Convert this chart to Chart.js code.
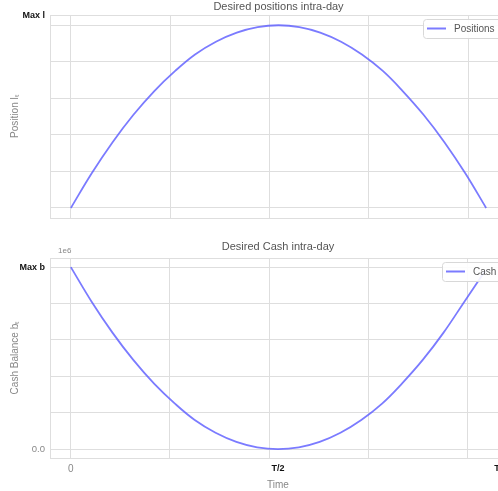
<!DOCTYPE html>
<html>
<head>
<meta charset="utf-8">
<script src="https://cdn.jsdelivr.net/npm/chart.js@4"></script>
<style>
  html, body { margin: 0; padding: 0; background: #fff; }
  #wrap { position: relative; width: 498px; height: 491px; overflow: hidden; }
  .box { position: absolute; left: 0; width: 512px; }
  #top-box { top: 0; height: 230px; }
  #bottom-box { top: 230px; height: 261px; }
</style>
</head>
<body>
<div id="wrap">
  <div class="box" id="top-box"><canvas id="positions-chart"></canvas></div>
  <div class="box" id="bottom-box"><canvas id="cash-chart"></canvas></div>
</div>
<script>
// time in minutes over the trading day
const times = [0, 21, 42, 63, 84, 105, 125, 146, 167, 188, 209, 230, 251, 272, 293, 314, 334, 355, 376, 397, 418];
// desired positions, fraction of max l
const positions = [0.00, 0.19, 0.36, 0.51, 0.64, 0.75, 0.84, 0.91, 0.96, 0.99, 1.00, 0.99, 0.96, 0.91, 0.84, 0.75, 0.64, 0.51, 0.36, 0.19, 0.00];
// desired cash balance, in 1e6
const cash = [1.00, 0.81, 0.64, 0.49, 0.36, 0.25, 0.16, 0.09, 0.04, 0.01, 0.00, 0.01, 0.04, 0.09, 0.16, 0.25, 0.36, 0.49, 0.64, 0.81, 0.98];

const gridTimes = [0, 100, 200, 300, 400];
const timeLabels = ['0', 'T/2', 'T'];
const timeLabelAt = [0, 209, 430];
const yGrid = [0, 0.2, 0.4, 0.6, 0.8, 1.0];

const X_MIN = -21, X_MAX = 439;
const FONT = "'Liberation Sans', Arial, sans-serif";
const GRID = '#dedede';
const LINE = 'rgba(90, 90, 255, 0.8)';

function toPoints(ys) {
    return times.map((t, i) => ({ x: t, y: ys[i] }));
}

// legend box drawn inside the plot, upper right, like matplotlib
const insideLegend = {
    id: 'insideLegend',
    afterDraw(chart, args, opts) {
        const ctx = chart.ctx;
        const ds = chart.data.datasets[0];
        ctx.save();
        ctx.fillStyle = 'rgba(255,255,255,0.9)';
        ctx.strokeStyle = '#d8d8d8';
        ctx.lineWidth = 1;
        ctx.beginPath();
        ctx.roundRect(opts.x + 0.5, opts.y + 0.5, 90, 19, 3);
        ctx.fill();
        ctx.stroke();
        ctx.strokeStyle = ds.borderColor;
        ctx.lineWidth = 2;
        ctx.beginPath();
        ctx.moveTo(opts.x + 4, opts.y + 9.5);
        ctx.lineTo(opts.x + 23, opts.y + 9.5);
        ctx.stroke();
        ctx.fillStyle = '#555';
        ctx.font = '10px ' + FONT;
        ctx.textBaseline = 'middle';
        ctx.fillText(ds.label, opts.x + 31, opts.y + 10);
        if (opts.offsetText) {
            ctx.fillStyle = '#888';
            ctx.font = '8px ' + FONT;
            ctx.fillText(opts.offsetText, chart.chartArea.left + 8, chart.chartArea.top - 7);
        }
        ctx.restore();
    }
};

function makeChart(canvasId, cfg) {
    const isBottom = cfg.isBottom;
    return new Chart(document.getElementById(canvasId), {
        type: 'line',
        data: {
            datasets: [{
                label: cfg.label,
                data: toPoints(cfg.values),
                borderColor: LINE,
                borderWidth: 1.8,
                pointRadius: 0,
                tension: 0.4,
                fill: false
            }]
        },
        options: {
            responsive: true,
            maintainAspectRatio: false,
            animation: false,
            layout: { padding: { left: 0, right: 5, top: 0, bottom: cfg.padBottom } },
            plugins: {
                legend: { display: false },
                tooltip: { enabled: false },
                title: {
                    display: true,
                    text: cfg.title,
                    fullSize: false,
                    color: '#555',
                    font: { family: FONT, size: 11, weight: 'normal' },
                    padding: cfg.titlePad
                },
                insideLegend: cfg.legend
            },
            scales: {
                x: {
                    type: 'linear',
                    min: X_MIN,
                    max: X_MAX,
                    afterBuildTicks: (scale) => {
                        const vals = isBottom ? gridTimes.concat(timeLabelAt) : gridTimes.slice();
                        vals.push(X_MAX);
                        scale.ticks = [...new Set(vals)].sort((a, b) => a - b).map(v => ({ value: v }));
                    },
                    grid: {
                        drawTicks: false,
                        color: (c) => (c.tick && (gridTimes.includes(c.tick.value) || c.tick.value === X_MAX)) ? GRID : 'rgba(0,0,0,0)'
                    },
                    border: { color: GRID },
                    ticks: {
                        display: isBottom,
                        autoSkip: false,
                        maxRotation: 0,
                        padding: 6,
                        callback: (v) => {
                            const k = timeLabelAt.indexOf(v);
                            return k >= 0 ? timeLabels[k] : '';
                        },
                        color: (c) => (c.tick && c.tick.value === 0) ? '#888' : '#111',
                        font: (c) => (c.tick && c.tick.value === 0)
                            ? { family: FONT, size: 10, lineHeight: 1 }
                            : { family: FONT, size: 9, weight: 'bold', lineHeight: 1 }
                    },
                    title: {
                        display: isBottom,
                        text: 'Time',
                        color: '#888',
                        font: { family: FONT, size: 10, lineHeight: 1 },
                        padding: { top: 0, bottom: 0 }
                    }
                },
                y: {
                    min: cfg.yMin,
                    max: cfg.yMax,
                    afterFit: (scale) => { scale.width = 50; },
                    afterBuildTicks: (scale) => {
                        scale.ticks = yGrid.concat([cfg.yMax]).map(v => ({ value: v }));
                    },
                    grid: { drawTicks: false, color: GRID },
                    border: { color: GRID },
                    ticks: {
                        padding: 5,
                        callback: (v) => cfg.yLabels[v] || '',
                        color: (c) => (c.tick && c.tick.value === 0) ? '#888' : '#111',
                        font: (c) => (c.tick && c.tick.value === 0)
                            ? { family: FONT, size: 9.5 }
                            : { family: FONT, size: 9, weight: 'bold' }
                    },
                    title: {
                        display: true,
                        text: cfg.yTitle,
                        color: '#888',
                        font: { family: FONT, size: 10 },
                        padding: { top: 9, bottom: 0 }
                    }
                }
            }
        },
        plugins: [insideLegend]
    });
}

makeChart('positions-chart', {
    isBottom: false,
    label: 'Positions',
    values: positions,
    title: 'Desired positions intra-day',
    titlePad: { top: 0, bottom: 2 },
    padBottom: 12,
    yMin: -0.055,
    yMax: 1.055,
    yLabels: { 1.055: 'Max l' },
    yTitle: 'Position lₜ',
    legend: { x: 423, y: 19 }
});

makeChart('cash-chart', {
    isBottom: true,
    label: 'Cash',
    values: cash,
    title: 'Desired Cash intra-day',
    titlePad: { top: 10, bottom: 5 },
    padBottom: 1,
    yMin: -0.049,
    yMax: 1.049,
    yLabels: { 0: '0.0', 1: 'Max b' },
    yTitle: 'Cash Balance bₜ',
    legend: { x: 442, y: 32, offsetText: '1e6' }
});
</script>
</body>
</html>
